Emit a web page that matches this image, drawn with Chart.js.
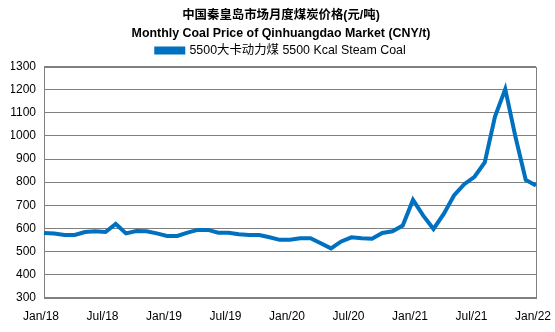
<!DOCTYPE html>
<html lang="zh">
<head>
    <meta charset="UTF-8">
    <title>Monthly Coal Price of Qinhuangdao Market</title>
    <script src="https://cdn.jsdelivr.net/npm/chart.js"></script>
    <style>
        html, body { margin: 0; padding: 0; background: #fff; }
        .wrap { width: 555px; height: 332px; }
    </style>
</head>
<body>
    <div class="wrap"><canvas id="coalChart"></canvas></div>

    <script>
        const titleLines = ["中国秦皇岛市场月度煤炭价格(元/吨)", "Monthly Coal Price of Qinhuangdao Market (CNY/t)"];
        const seriesName = "5500大卡动力煤 5500 Kcal Steam Coal";

        const months = [
            "Jan/18", "Feb/18", "Mar/18", "Apr/18", "May/18", "Jun/18", "Jul/18", "Aug/18", "Sep/18", "Oct/18", "Nov/18", "Dec/18",
            "Jan/19", "Feb/19", "Mar/19", "Apr/19", "May/19", "Jun/19", "Jul/19", "Aug/19", "Sep/19", "Oct/19", "Nov/19", "Dec/19",
            "Jan/20", "Feb/20", "Mar/20", "Apr/20", "May/20", "Jun/20", "Jul/20", "Aug/20", "Sep/20", "Oct/20", "Nov/20", "Dec/20",
            "Jan/21", "Feb/21", "Mar/21", "Apr/21", "May/21", "Jun/21", "Jul/21", "Aug/21", "Sep/21", "Oct/21", "Nov/21", "Dec/21",
            "Jan/22"
        ];

        const prices = [
            580, 577, 571, 571, 584, 587, 584, 619, 578, 588, 587, 578,
            567, 567, 581, 593, 593, 581, 581, 574, 571, 571, 561, 550,
            550, 557, 557, 535, 513, 543, 561, 557, 555, 580, 587, 612,
            723, 655, 597, 662, 742, 791, 823, 885, 1084, 1203, 995, 809,
            785
        ];

        const xTickLabels = ["Jan/18", "Jul/18", "Jan/19", "Jul/19", "Jan/20", "Jul/20", "Jan/21", "Jul/21", "Jan/22"];
        const yMin = 300, yMax = 1300, yStep = 100;

        const fontFamily = 'Arial, "Liberation Sans", "Noto Sans CJK SC", sans-serif';

        // gray frame round the plot area
        const plotBox = {
            id: "plotBox",
            beforeDatasetsDraw(chart) {
                const a = chart.chartArea, c = chart.ctx;
                c.save();
                c.strokeStyle = "#808080";
                c.lineWidth = 1;
                c.strokeRect(Math.round(a.left) + 0.5, Math.round(a.top) + 0.5,
                    Math.round(a.right - a.left), Math.round(a.bottom - a.top));
                c.restore();
            }
        };

        new Chart(document.getElementById("coalChart"), {
            type: "line",
            data: {
                labels: months,
                datasets: [{
                    label: seriesName,
                    data: prices,
                    borderColor: "#0070C0",
                    backgroundColor: "#0070C0",
                    borderWidth: 4,
                    pointRadius: 0,
                    tension: 0
                }]
            },
            options: {
                responsive: true,
                maintainAspectRatio: false,
                animation: false,
                layout: { padding: { left: 11, right: 4, top: 2, bottom: 4 } },
                plugins: {
                    title: {
                        display: true,
                        text: titleLines,
                        color: "#000",
                        font: { family: fontFamily, size: 12.4, weight: "bold", lineHeight: 1.5 },
                        padding: { top: 4, bottom: -5 }
                    },
                    legend: {
                        display: true,
                        labels: {
                            color: "#000",
                            font: { family: fontFamily, size: 12.4 },
                            boxWidth: 27,
                            boxHeight: 4,
                            padding: 6
                        }
                    },
                    tooltip: { enabled: false }
                },
                scales: {
                    x: {
                        offset: false,
                        grid: { display: false },
                        border: { display: false },
                        afterFit: function (scale) {
                            scale.paddingLeft = 0;
                            scale.paddingRight = 19;
                        },
                        ticks: {
                            autoSkip: false,
                            maxRotation: 0,
                            color: "#000",
                            font: { family: fontFamily, size: 12 },
                            padding: 4,
                            labelOffset: -3,
                            callback: function (value, index) {
                                const lab = months[index];
                                return xTickLabels.includes(lab) ? lab : "";
                            }
                        }
                    },
                    y: {
                        min: yMin,
                        max: yMax,
                        grid: { color: "#808080", drawTicks: false },
                        border: { display: false },
                        afterFit: function (scale) { scale.width = 33; },
                        ticks: {
                            stepSize: yStep,
                            color: "#000",
                            font: { family: fontFamily, size: 12 },
                            padding: 8,
                            callback: function (value) { return String(value); }
                        }
                    }
                }
            },
            plugins: [plotBox]
        });
    </script>
</body>
</html>
